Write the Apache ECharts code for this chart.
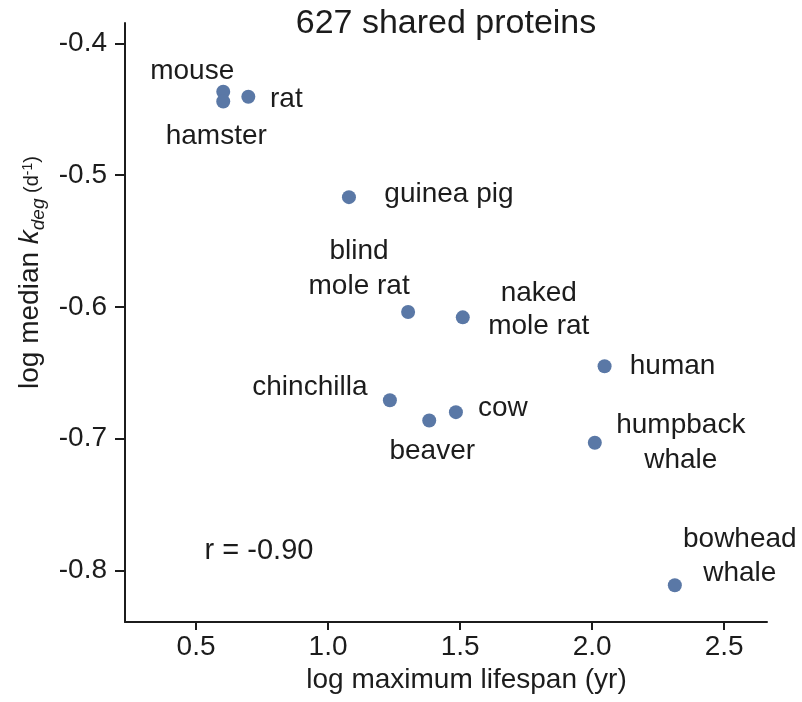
<!DOCTYPE html>
<html>
<head>
<meta charset="utf-8">
<script src="https://cdn.jsdelivr.net/npm/echarts@6/dist/echarts.min.js"></script>
<style>
  html, body { margin: 0; padding: 0; background: #ffffff; }
  #chart { width: 802px; height: 702px; }
</style>
</head>
<body>
<div id="chart"></div>
<script>
// ---- data ----
const species = ['mouse', 'hamster', 'rat', 'guinea pig', 'blind mole rat', 'naked mole rat',
                 'chinchilla', 'beaver', 'cow', 'human', 'humpback whale', 'bowhead whale'];
const labelTexts = ['mouse', 'hamster', 'rat', 'guinea pig', 'blind\nmole rat', 'naked\nmole rat',
                    'chinchilla', 'beaver', 'cow', 'human', 'humpback\nwhale', 'bowhead\nwhale'];
const logLifespan = [0.603, 0.603, 0.698, 1.079, 1.303, 1.510, 1.234, 1.383, 1.484, 2.047, 2.010, 2.313];
const logMedianKdeg = [-0.4367, -0.4442, -0.4405, -0.5167, -0.6038, -0.6079, -0.6708, -0.6861, -0.6798, -0.645, -0.703, -0.8111];
const xTicks = [0.5, 1.0, 1.5, 2.0, 2.5];
const yTicks = [-0.8, -0.7, -0.6, -0.5, -0.4];
const titleText = '627 shared proteins';
const corrText = 'r = -0.90';

// ---- label placement (styles, not data) ----
const labelStyle = {
  'mouse':          { offset: [-31, -20] },
  'hamster':        { offset: [-7, 35] },
  'rat':            { offset: [38, 3] },
  'guinea pig':     { offset: [100, -3] },
  'blind mole rat': { offset: [-49, -43], lineHeight: 35 },
  'naked mole rat': { offset: [76, -8], lineHeight: 33 },
  'chinchilla':     { offset: [-80, -13] },
  'beaver':         { offset: [3, 31] },
  'cow':            { offset: [47, -4] },
  'human':          { offset: [68, 0] },
  'humpback whale': { offset: [86, 0], lineHeight: 35 },
  'bowhead whale':  { offset: [65, -29], lineHeight: 34 }
};

const FONT = "'Liberation Sans', Arial, Helvetica, sans-serif";
const TXT = '#1c1c1c';
const DOT = '#5a78a6';

const points = species.map((s, i) => ({
  name: s,
  value: [logLifespan[i], logMedianKdeg[i]],
  label: {
    formatter: labelTexts[i],
    lineHeight: labelStyle[s].lineHeight || 30
  }
}));

const chart = echarts.init(document.getElementById('chart'), null, { renderer: 'canvas' });
chart.setOption({
  animation: false,
  backgroundColor: '#ffffff',
  title: {
    text: titleText,
    left: 446,
    top: 7,
    padding: 0,
    textAlign: 'center',
    textStyle: { fontFamily: FONT, fontSize: 34, fontWeight: 'normal', color: TXT }
  },
  grid: { left: 125, right: 35, top: 23, bottom: 80, containLabel: false, outerBoundsMode: 'none' },
  xAxis: {
    type: 'value',
    min: 0.231,
    max: 2.662,
    name: 'log maximum lifespan (yr)',
    nameLocation: 'middle',
    nameGap: 44,
    nameTextStyle: { fontFamily: FONT, fontSize: 28, color: TXT, padding: [0, 0, 0, 41] },
    axisLine: { show: true, onZero: false, lineStyle: { color: TXT, width: 2 } },
    axisTick: { show: true, length: 8, customValues: xTicks, lineStyle: { color: TXT, width: 2 } },
    axisLabel: { customValues: xTicks, formatter: v => v.toFixed(1), fontFamily: FONT, fontSize: 28, color: TXT, margin: 11 },
    splitLine: { show: false }
  },
  yAxis: {
    type: 'value',
    min: -0.839,
    max: -0.3846,
    name: '{a|log median }{k|k}{s|deg}{p| (d}{sup|-1}{p|)}',
    nameLocation: 'middle',
    nameGap: 69,
    nameRotate: 90,
    nameTextStyle: {
      color: TXT,
      padding: [0, 0, 0, 100],
      rich: {
        a:   { fontFamily: FONT, fontSize: 28, color: TXT, lineHeight: 36 },
        k:   { fontFamily: FONT, fontSize: 28, fontStyle: 'italic', color: TXT, lineHeight: 36 },
        s:   { fontFamily: FONT, fontSize: 19, fontStyle: 'italic', color: TXT, verticalAlign: 'bottom' },
        p:   { fontFamily: FONT, fontSize: 20, color: TXT, padding: [6, 0, 0, 0] },
        sup: { fontFamily: FONT, fontSize: 14, color: TXT, padding: [0, 0, 4, 0] }
      }
    },
    axisLine: { show: true, onZero: false, lineStyle: { color: TXT, width: 2 } },
    axisTick: { show: true, length: 10, customValues: yTicks, lineStyle: { color: TXT, width: 2 } },
    axisLabel: { customValues: yTicks, formatter: v => v.toFixed(1), fontFamily: FONT, fontSize: 28, color: TXT, margin: 18 },
    splitLine: { show: false }
  },
  series: [{
    type: 'scatter',
    symbol: 'circle',
    symbolSize: 14,
    itemStyle: { color: DOT, opacity: 1 },
    label: {
      show: true,
      position: 'inside',
      align: 'center',
      verticalAlign: 'middle',
      fontFamily: FONT,
      fontSize: 28,
      color: TXT
    },
    labelLayout: function (params) {
      const o = labelStyle[species[params.dataIndex]].offset;
      return { dx: o[0], dy: o[1], hideOverlap: false };
    },
    emphasis: { disabled: true },
    data: points
  }],
  graphic: [{
    type: 'text',
    x: 259,
    y: 551,
    style: {
      text: corrText,
      align: 'center',
      verticalAlign: 'middle',
      fontFamily: FONT,
      fontSize: 29,
      fill: TXT
    }
  }]
});
</script>
</body>
</html>
